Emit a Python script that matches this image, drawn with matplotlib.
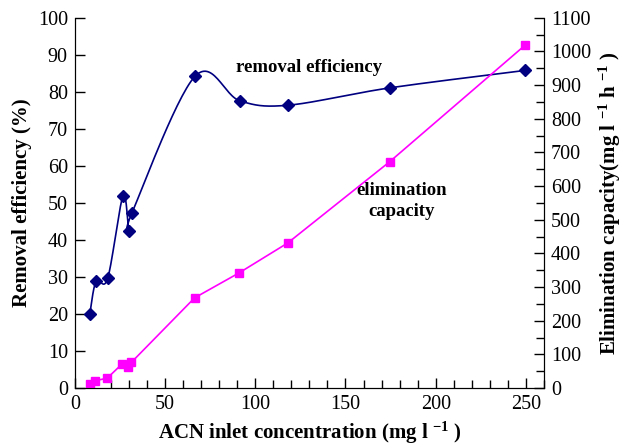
import numpy as np
import matplotlib.pyplot as plt
from matplotlib.ticker import MultipleLocator

# inlet concentration (mg l-1)
conc_re = [8.3, 11.8, 18.2, 26.7, 30.0, 31.6, 66.6, 91.4, 118.3, 174.8, 249.6]
removal = [20.0, 28.9, 29.6, 51.9, 42.5, 47.2, 84.2, 77.6, 76.4, 81.1, 85.8]

conc_ec = [8.3, 11.4, 17.9, 26.3, 29.6, 31.3, 66.4, 91.0, 118.0, 174.4, 249.6]
elim_cap = [11, 22, 29, 72, 63, 76, 268, 342, 431, 672, 1019]


def smooth(xs, ys, n=30):
    # excel-like smoothed line (bezier through points, catmull-rom tangents)
    p = np.column_stack([xs, ys]).astype(float)
    p = np.vstack([p[0], p, p[-1]])
    out = []
    for i in range(1, len(p) - 2):
        p0, p1, p2, p3 = p[i - 1], p[i], p[i + 1], p[i + 2]
        c1 = p1 + (p2 - p0) / 6
        c2 = p2 - (p3 - p1) / 6
        t = np.linspace(0, 1, n)[:, None]
        seg = (1 - t) ** 3 * p1 + 3 * (1 - t) ** 2 * t * c1 + 3 * (1 - t) * t ** 2 * c2 + t ** 3 * p2
        out.append(seg)
    out = np.vstack(out)
    return out[:, 0], out[:, 1]


plt.rcParams['font.family'] = 'Liberation Serif'
plt.rcParams['mathtext.fontset'] = 'custom'
plt.rcParams['mathtext.rm'] = 'Liberation Serif:bold'
plt.rcParams['mathtext.default'] = 'rm'

fig = plt.figure(figsize=(6.34, 4.46), dpi=100)
ax = fig.add_axes([0.118, 0.130, 0.740, 0.830])
ax2 = ax.twinx()

sx, sy = smooth(conc_re, removal)
ax.plot(sx, sy, color='#000080', lw=1.2)
ax.plot(conc_re, removal, 'D', color='#000080', ms=6, ls='none')

ax2.plot(conc_ec, elim_cap, '-s', color='#FF00FF', lw=1.2, ms=6)

ax.set_xlim(0, 260)
ax.set_ylim(0, 100)
ax2.set_ylim(0, 1100)

ax.xaxis.set_major_locator(MultipleLocator(50))
ax.xaxis.set_minor_locator(MultipleLocator(10))
ax.yaxis.set_major_locator(MultipleLocator(10))
ax2.yaxis.set_major_locator(MultipleLocator(100))
ax2.yaxis.set_minor_locator(MultipleLocator(50))

for a in (ax, ax2):
    a.spines['top'].set_visible(False)
    a.tick_params(which='both', direction='in', labelsize=14.5, width=1)
    a.tick_params(which='major', length=7)
    a.tick_params(which='minor', length=6)
ax.tick_params(axis='y', pad=5)
ax.tick_params(axis='x', pad=5)
ax2.tick_params(axis='y', pad=5)

ax.set_xlabel(r'ACN inlet concentration (mg l $^{-1}$ )', fontsize=15, fontweight='bold')
ax.set_ylabel('Removal efficiency (%)', fontsize=15, fontweight='bold')
ax2.set_ylabel(r'Elimination capacity(mg l $^{-1}$ h $^{-1}$ )', fontsize=15, fontweight='bold')

ax.text(130, 86.5, 'removal efficiency', ha='center', va='center', fontsize=13.5, fontweight='bold')
ax.text(181, 50.5, 'elimination\ncapacity', ha='center', va='center', fontsize=13.5,
        fontweight='bold', linespacing=1.3)

fig.savefig('out.png', dpi=100)
